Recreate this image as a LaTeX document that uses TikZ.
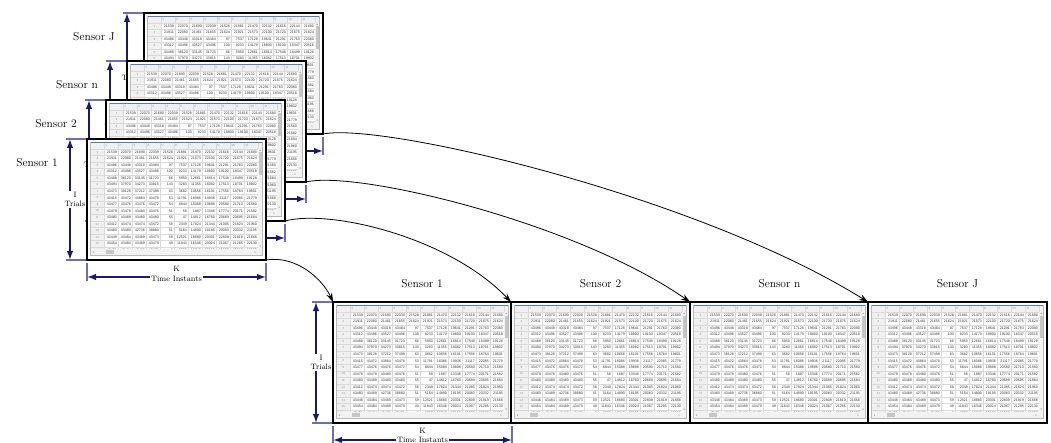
\documentclass[tikz,border=0pt]{standalone}
\usepackage{fontspec}
\newfontfamily\cellfont{Liberation Sans}
\usetikzlibrary{arrows.meta,calc}
\definecolor{dimcol}{RGB}{25,25,115}
\definecolor{tickcol}{RGB}{110,110,180}
\definecolor{gridcol}{RGB}{218,218,218}
\definecolor{hdrcol}{RGB}{240,240,240}
\definecolor{bluebar}{RGB}{85,125,170}
\definecolor{numcol}{RGB}{55,55,55}
\definecolor{idxcol}{RGB}{150,150,150}
\def\sheetdata{{21539,22070,21690,22039,21528,21881,21470,22132,21616,22144,21680},%
{21911,22080,21461,21655,21624,21921,21573,22100,21720,21675,21624},%
{43496,43448,43318,43484,97,7537,17128,19641,21291,21763,22080},%
{43312,43496,43527,43496,100,8233,14179,18800,19100,18347,20518},%
{43488,38120,33145,31723,66,5950,12661,16814,17548,18499,19128},%
{43494,37970,34273,33815,143,3283,11355,16082,17513,18701,19802},%
{43473,38128,37212,37499,63,3682,10656,16101,17556,18764,19601},%
{43415,43472,43864,43478,53,11791,16086,19936,21117,22085,21779},%
{43477,43476,43476,43472,54,8844,15088,19898,20580,21710,21560},%
{43479,43478,43480,43476,51,58,1887,13346,17774,20171,21582},%
{43480,43489,43480,43480,55,47,14812,16760,20689,20695,21684},%
{43412,43474,43474,43472,58,2349,17824,21344,21085,21824,21960},%
{43480,43489,42736,38880,51,5164,14890,18195,20083,20332,21195},%
{43448,43484,43489,43473,59,12521,18680,20301,22809,21819,21668},%
{43454,43484,43489,43479,49,11843,16346,20024,21067,21285,22130},%
{43451,43484,43489,43471,9,9700,16740,20150,21000,20867,22000}}
% number of rows whose cells are not hidden by a sheet in front
\def\sheetrows{16}
\tikzset{
  sheetframe/.style={draw=black, fill=white, line width=1.3pt, minimum width=179pt, minimum height=121pt, inner sep=0pt, outer sep=0pt},
  cellnum/.style={font=\cellfont\fontsize{3.6}{4}\selectfont, inner sep=0pt, text=numcol, anchor=east},
  idxnum/.style={font=\cellfont\fontsize{3}{3.5}\selectfont, inner sep=0pt, text=idxcol},
  gridline/.style={draw=gridcol, line width=0.3pt},
  dimarrow/.style={draw=dimcol, line width=1.4pt, {Latex[length=9pt,width=6.5pt]}-{Latex[length=9pt,width=6.5pt]}},
  tickline/.style={draw=tickcol, line width=1.4pt},
  dimlabel/.style={fill=white, inner sep=1pt, align=center, font=\fontsize{7.8}{9.5}\selectfont},
  senslabel/.style={font=\fontsize{11.5}{13}\selectfont},
  flowarrow/.style={draw=black, line width=0.8pt, -{Stealth[length=9pt,width=6pt]}},
  sheet/.pic={
    \node[sheetframe] (-frame) at (89.5,60.5) {};
    \path[fill=white] (3.7,3) rectangle (175.3,116.3);
    \fill[hdrcol] (3.7,3) rectangle (175.3,9.7);
    \fill[hdrcol] (3.7,9.7) rectangle (17,110);
    \foreach \k in {0,...,16} \draw[gridline] (3.7,9.7+6.55*\k) -- (171,9.7+6.55*\k);
    \foreach \k in {0,...,11} \draw[gridline] (17+14*\k,3) -- (17+14*\k,110);
    \foreach \c in {1,...,11} \node[idxnum, anchor=west] (-h\c) at (17+14*\c-12.8, 6.35) {\c};
    \foreach \r in {1,...,\sheetrows} \node[idxnum] (-n\r) at (10.35, 6.45+6.55*\r) {\r};
    \foreach \row [count=\r] in \sheetdata {
      \foreach \v [count=\c] in \row {
        \pgfmathtruncatemacro\cellshown{(\r<=\sheetrows) || (\c==11)}
        \ifnum\cellshown=1
          \node[cellnum] (-c\r-\c) at (17+14*\c-0.9, 6.45+6.55*\r) {\v};
        \fi
      }
    }
    \fill[gray!10] (171,9.7) rectangle (175.3,110);
    \fill[gray!45] (171.7,13.5) rectangle (174.6,36);
    \fill[gray!70] (172.2,11.9) -- (174.1,11.9) -- (173.15,10.6) -- cycle;
    \fill[gray!70] (172.2,106.6) -- (174.1,106.6) -- (173.15,107.9) -- cycle;
    \fill[gray!10] (3.7,110) rectangle (175.3,116.3);
    \fill[gray!45] (19,111) rectangle (27,115.3);
    \fill[gray!70] (7,112.2) -- (7,114.1) -- (5.8,113.15) -- cycle;
    \fill[gray!70] (167.5,112.2) -- (167.5,114.1) -- (168.7,113.15) -- cycle;
    \draw[gray!55, line width=0.5pt] (3.7,3) rectangle (175.3,116.3);
    \draw[bluebar, line width=0.8pt] (3.7,3) -- (175.3,3);
  }
}
% dimension arrows of a sheet whose top-left corner is at (#2,#3)
\newcommand\sheetdims[3]{%
  \begin{scope}[shift={(#2,#3)}]
    \coordinate (#1-tt1) at (-21,0);   \coordinate (#1-tt2) at (0,0);
    \coordinate (#1-tb1) at (-21,121); \coordinate (#1-tb2) at (0,121);
    \coordinate (#1-tl1) at (0,124);   \coordinate (#1-tl2) at (0,142);
    \coordinate (#1-tr1) at (179,124); \coordinate (#1-tr2) at (179,142);
    \coordinate (#1-vt) at (-17,0);    \coordinate (#1-vb) at (-17,121);
    \coordinate (#1-hl) at (0,138);    \coordinate (#1-hr) at (179,138);
    \draw[tickline] (#1-tt1) -- (#1-tt2);
    \draw[tickline] (#1-tb1) -- (#1-tb2);
    \draw[tickline] (#1-tl1) -- (#1-tl2);
    \draw[tickline] (#1-tr1) -- (#1-tr2);
    \draw[dimarrow] (#1-vt) -- (#1-vb);
    \draw[dimarrow] (#1-hl) -- (#1-hr);
    \node[dimlabel] (#1-ilab) at (-12,60.5) {I\\Trials};
  \end{scope}}
% #4 = vertical offset of the label centre below the sheet top, #5 = line spacing
\newcommand\klabel[5]{%
  \node[dimlabel, font=\fontsize{7.8}{#5}\selectfont] (#1-klab) at ($(#2,#3)+(89.5,#4)$) {K\\Time Instants};}
% one sheet of the stack at the top left; #5 = rows not hidden by the sheet in front
\newcommand\stacklayer[5]{%
  \sheetdims{#1}{#2}{#3}
  \def\sheetrows{#5}
  \begin{scope}[shift={(#2,#3)}]
    \node[senslabel] (#1-lab) at (-50,24) {#4};
    \pic (#1) at (0,0) {sheet};
  \end{scope}}
\begin{document}
\begin{tikzpicture}[x=1pt,y=-1pt]
\useasboundingbox[fill=white] (0,0) rectangle (1051,443);
% stacked sheets, back to front
\stacklayer{tJ}{144}{13}{Sensor J}{6}
\stacklayer{tn}{127}{61}{Sensor n}{5}
\stacklayer{t2}{106}{100}{Sensor 2}{5}
\stacklayer{t1}{87}{139}{Sensor 1}{16}
\klabel{t1}{87}{139}{135}{9.5}
% sheets side by side
\def\sheetrows{16}
\sheetdims{b1}{333}{302}
\klabel{b1}{333}{302}{133.2}{8.6}
\pic (b1) at (333,302) {sheet};
\pic (b2) at (511,302) {sheet};
\pic (bn) at (690,302) {sheet};
\pic (bJ) at (868,302) {sheet};
\node[senslabel] (b1-lab) at (422,284) {Sensor 1};
\node[senslabel] (b2-lab) at (600.5,284) {Sensor 2};
\node[senslabel] (bn-lab) at (779.5,284) {Sensor n};
\node[senslabel] (bJ-lab) at (957.5,284) {Sensor J};
% flow arrows
\draw[flowarrow] (t1-frame.south east) .. controls +(30,-5) and +(-10.5,-23) .. (b1-frame.north west);
\draw[flowarrow] (t2-frame.south east) .. controls +(45,-12) and +(-62,-65) .. (b2-frame.north west);
\draw[flowarrow] (tn-frame.south east) .. controls +(50,-12) and +(-115,-80) .. (bn-frame.north west);
\draw[flowarrow] (tJ-frame.south east) .. controls +(60,-12) and +(-170,-106) .. (bJ-frame.north west);
\end{tikzpicture}
\end{document}
